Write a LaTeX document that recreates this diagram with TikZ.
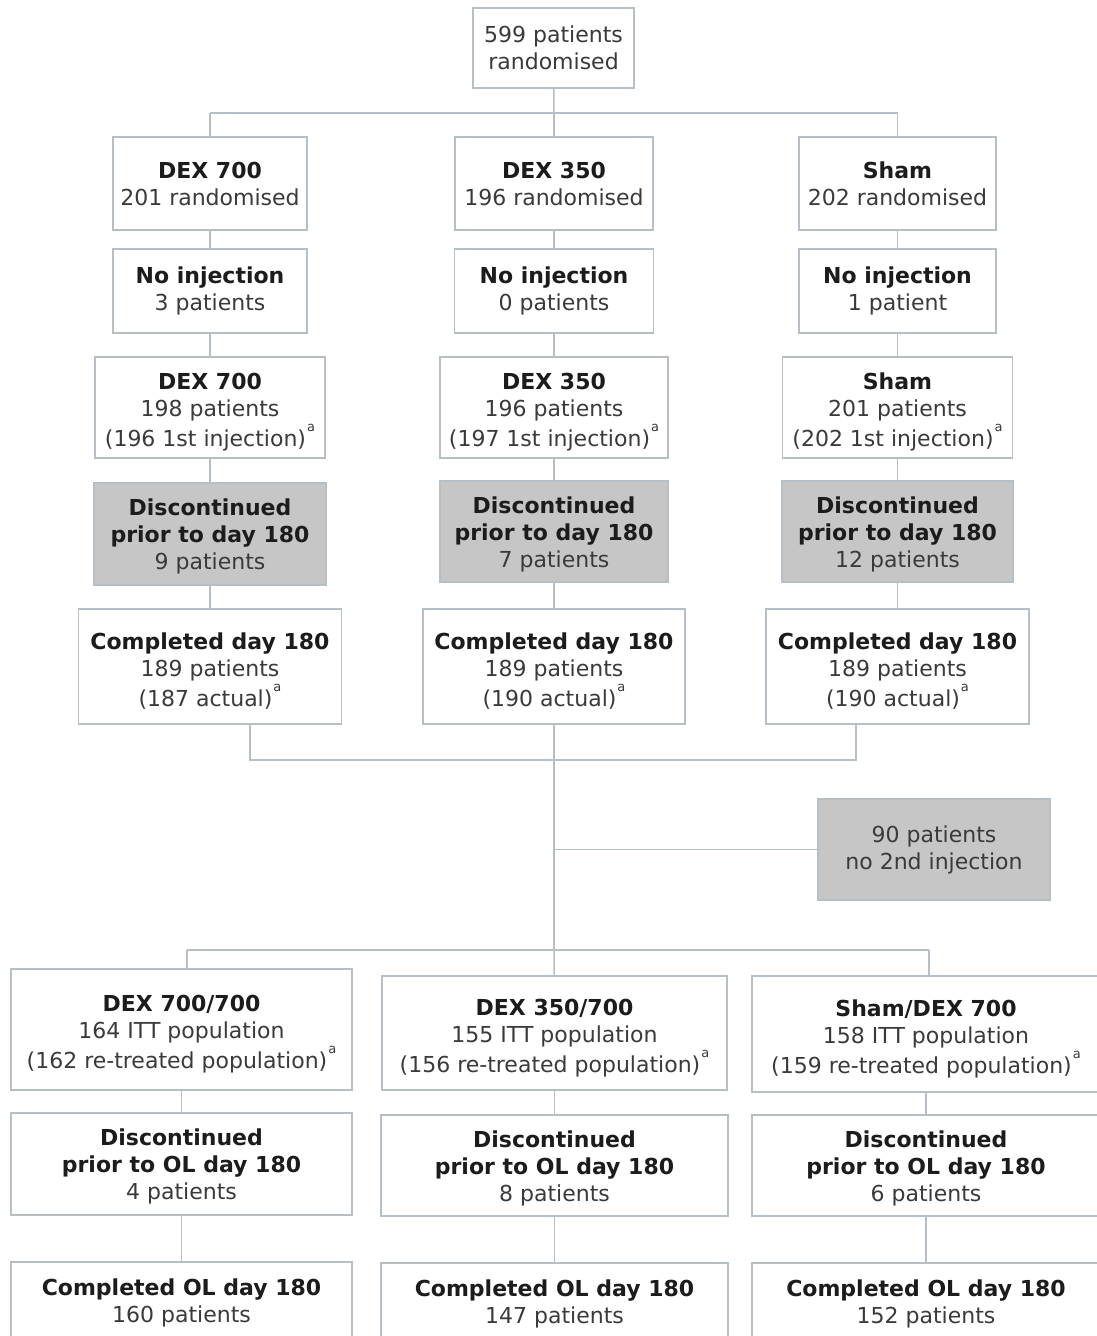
\documentclass[tikz,border=0pt]{standalone}
\usepackage{fontspec}
\setmainfont{DejaVu Sans}
\definecolor{bord}{HTML}{B6BEC6}
\definecolor{grayfill}{HTML}{C6C6C6}
\definecolor{txt}{HTML}{3A3A3A}
\definecolor{btxt}{HTML}{1C1C1C}
\tikzset{
 box/.style={draw=bord, line width=1.5pt, fill=white, inner sep=0pt, align=center, text=txt, font=\fontsize{22}{27}\selectfont},
 gbox/.style={box, fill=grayfill},
 conn/.style={draw=bord, line width=1.5pt},
}
\newcommand{\hd}[1]{{\bfseries\color{btxt}#1}}
\newcommand{\supa}{\kern1pt\smash{\raisebox{15pt}{\fontsize{13}{13}\selectfont a}}}
\newcommand{\pushA}{\rule{0pt}{22pt}}
\newcommand{\pushB}{\rule{0pt}{26pt}}
\begin{document}
\begin{tikzpicture}[x=1pt,y=-1pt]
\useasboundingbox (0,0) rectangle (1096,1336);
% top
\node[box, minimum width=161pt, minimum height=80pt] (top) at (553.5,48) {599 patients\\randomised};
% row 2
\node[box, minimum width=194pt, minimum height=93pt] (r2a) at (210,183.5) {\hd{DEX 700}\\201 randomised};
\node[box, minimum width=198pt, minimum height=93pt] (r2b) at (554,183.5) {\hd{DEX 350}\\196 randomised};
\node[box, minimum width=197pt, minimum height=93pt] (r2c) at (897.5,183.5) {\hd{Sham}\\202 randomised};
% row 3
\node[box, minimum width=194pt, minimum height=84pt] (r3a) at (210,291) {\hd{No injection}\\3 patients};
\node[box, minimum width=199pt, minimum height=84pt] (r3b) at (554,291) {\hd{No injection}\\0 patients};
\node[box, minimum width=197pt, minimum height=84pt] (r3c) at (897.5,291) {\hd{No injection}\\1 patient};
% row 4
\node[box, minimum width=230pt, minimum height=101pt] (r4a) at (210,407.5) {\pushB\hd{DEX 700}\\198 patients\\[3pt](196 1st injection)\supa};
\node[box, minimum width=228pt, minimum height=101pt] (r4b) at (554,407.5) {\pushB\hd{DEX 350}\\196 patients\\[3pt](197 1st injection)\supa};
\node[box, minimum width=230pt, minimum height=101pt] (r4c) at (897.5,407.5) {\pushB\hd{Sham}\\201 patients\\[3pt](202 1st injection)\supa};
% row 5
\node[gbox, minimum width=232pt, minimum height=102pt] (r5a) at (210,534) {\pushA\hd{Discontinued}\\\hd{prior to day 180}\\9 patients};
\node[gbox, minimum width=228pt, minimum height=101pt] (r5b) at (554,531.5) {\pushA\hd{Discontinued}\\\hd{prior to day 180}\\7 patients};
\node[gbox, minimum width=231pt, minimum height=101pt] (r5c) at (897.5,531.5) {\pushA\hd{Discontinued}\\\hd{prior to day 180}\\12 patients};
% row 6
\node[box, minimum width=263pt, minimum height=115pt] (r6a) at (210,666.5) {\pushB\hd{Completed day 180}\\189 patients\\[3pt](187 actual)\supa};
\node[box, minimum width=262pt, minimum height=115pt] (r6b) at (554,666.5) {\pushB\hd{Completed day 180}\\189 patients\\[3pt](190 actual)\supa};
\node[box, minimum width=263pt, minimum height=115pt] (r6c) at (897.5,666.5) {\pushB\hd{Completed day 180}\\189 patients\\[3pt](190 actual)\supa};
% 90 patients
\node[gbox, minimum width=232pt, minimum height=101pt] (ninety) at (934,849.5) {90 patients\\no 2nd injection};
% row 7
\node[box, minimum width=341pt, minimum height=121pt] (r7a) at (181.5,1029.5) {\pushB\hd{DEX 700/700}\\164 ITT population\\[3pt](162 re-treated population)\supa};
\node[box, minimum width=345pt, minimum height=114pt] (r7b) at (554.5,1033) {\pushB\hd{DEX 350/700}\\155 ITT population\\[3pt](156 re-treated population)\supa};
\node[box, minimum width=348pt, minimum height=116pt] (r7c) at (926,1034) {\pushB\hd{Sham/DEX 700}\\158 ITT population\\[3pt](159 re-treated population)\supa};
% row 8
\node[box, minimum width=341pt, minimum height=102pt] (r8a) at (181.5,1164) {\pushA\hd{Discontinued}\\\hd{prior to OL day 180}\\4 patients};
\node[box, minimum width=347pt, minimum height=101pt] (r8b) at (554.5,1165.5) {\pushA\hd{Discontinued}\\\hd{prior to OL day 180}\\8 patients};
\node[box, minimum width=348pt, minimum height=101pt] (r8c) at (926,1165.5) {\pushA\hd{Discontinued}\\\hd{prior to OL day 180}\\6 patients};
% row 9
\node[box, minimum width=341pt, minimum height=81pt] (r9a) at (181.5,1302.5) {\hd{Completed OL day 180}\\160 patients};
\node[box, minimum width=347pt, minimum height=81pt] (r9b) at (554.5,1303.5) {\hd{Completed OL day 180}\\147 patients};
\node[box, minimum width=348pt, minimum height=81pt] (r9c) at (926,1303.5) {\hd{Completed OL day 180}\\152 patients};
% junction coordinates
\coordinate (j1) at (554,113);
\coordinate (j1l) at (210,113);
\coordinate (j1r) at (897.5,113);
\coordinate (m1) at (250,760);
\coordinate (m3) at (856,760);
\coordinate (n1) at (554,849.5);
\coordinate (jb) at (554,950);
\coordinate (jbl) at (187,950);
\coordinate (jbr) at (929,950);
% connectors
\draw[conn] (top) -- (j1);
\draw[conn] (j1l) -- (j1r);
\draw[conn] (j1l) -- (r2a);
\draw[conn] (j1) -- (r2b);
\draw[conn] (j1r) -- (r2c);
\foreach \c in {a,b,c}{
  \draw[conn] (r2\c) -- (r3\c);
  \draw[conn] (r3\c) -- (r4\c);
  \draw[conn] (r4\c) -- (r5\c);
  \draw[conn] (r5\c) -- (r6\c);
  \draw[conn] (r7\c) -- (r8\c);
  \draw[conn] (r8\c) -- (r9\c);
}
\draw[conn] (r6a.south -| m1) -- (m1) -- (m3) -- (r6c.south -| m3);
\draw[conn] (r6b) -- (jb);
\draw[conn] (n1) -- (ninety);
\draw[conn] (jbl) -- (jbr);
\draw[conn] (jbl) -- (r7a.north -| jbl);
\draw[conn] (jb) -- (r7b);
\draw[conn] (jbr) -- (r7c.north -| jbr);
\end{tikzpicture}
\end{document}
